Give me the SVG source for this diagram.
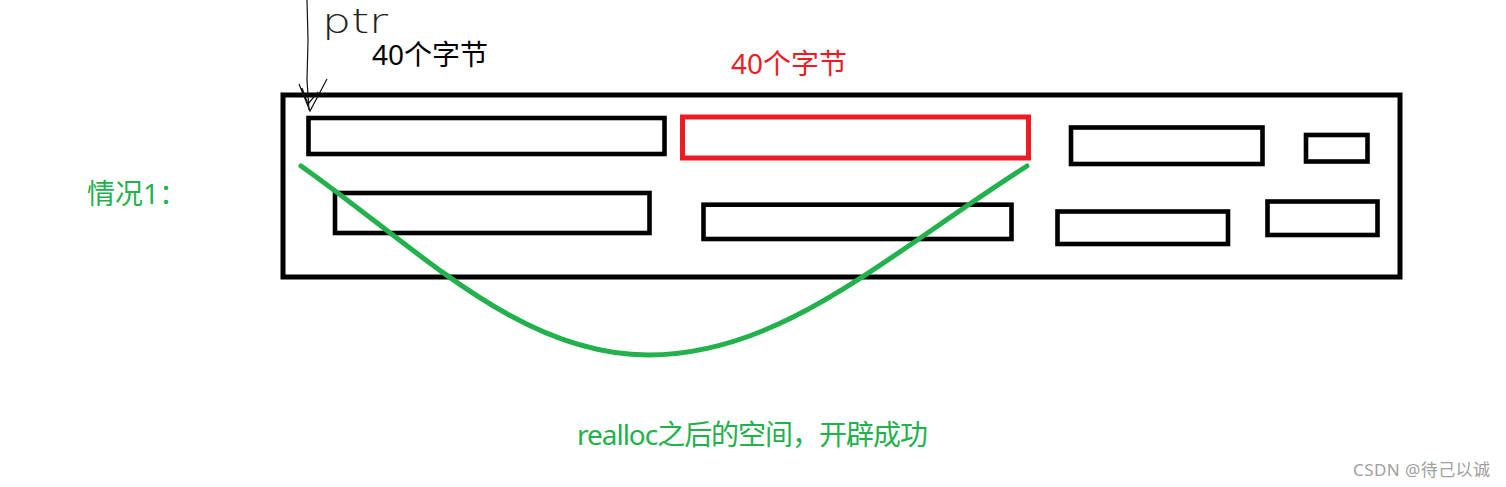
<svg xmlns="http://www.w3.org/2000/svg" width="1506" height="487" viewBox="0 0 1506 487">
<style>
.blk{fill:none;stroke:#000;stroke-width:4.6}
.red{fill:none;stroke:#ED1C24;stroke-width:5}
.cjk{font-family:"Noto Sans","Noto Sans CJK SC",sans-serif}
.g{fill:#22B14C}
</style>
<rect width="1506" height="487" fill="#fff"/>
<g id="memory">
<rect x="283" y="95" width="1117" height="182" fill="none" stroke="#000" stroke-width="5"/>
</g>
<g id="block1"><rect class="blk" x="308.5" y="118" width="356" height="36"/></g>
<g id="block-red"><rect class="red" x="682.5" y="117" width="346" height="41"/></g>
<g id="block3"><rect class="blk" x="1071" y="127.5" width="191.5" height="36.5"/></g>
<g id="block4"><rect class="blk" x="1306" y="135" width="61.5" height="26.5"/></g>
<g id="block5"><rect class="blk" x="335" y="193" width="314.5" height="40"/></g>
<g id="block6"><rect class="blk" x="703.5" y="204.7" width="308" height="34.3"/></g>
<g id="block7"><rect class="blk" x="1057.5" y="211.5" width="170.5" height="32.5"/></g>
<g id="block8"><rect class="blk" x="1267.5" y="201.5" width="110" height="33.5"/></g>
<g id="connectors">
<path d="M307,0 L308,40 L307,80 L309,110" fill="none" stroke="#111" stroke-width="1.2"/>
<path d="M299,84 L310,111 L327,79 M302,88 L308,104 L318,92" fill="none" stroke="#111" stroke-width="1.2"/>
<path d="M301,166 C420,250 520,355 648,355 C780,355 880,260 1027,166" fill="none" stroke="#22B14C" stroke-width="5" stroke-linecap="round"/>
</g>
<g id="labels">
<text x="322" y="33" font-family="DejaVu Sans" font-weight="200" font-size="34" fill="#222" textLength="66" lengthAdjust="spacingAndGlyphs">ptr</text>
<text class="cjk" x="372" y="65" font-size="28" fill="#000">40个字节</text>
<text class="cjk" x="731" y="74" font-size="28" fill="#ED1C24">40个字节</text>
<text class="cjk g" x="87" y="204" font-size="28">情况1：</text>
<text class="cjk g" x="577" y="445" font-size="28" textLength="351" lengthAdjust="spacing">realloc之后的空间，开辟成功</text>
<text class="cjk" x="1353" y="476" font-size="17" fill="#a0a0a0" textLength="137" lengthAdjust="spacing">CSDN @待己以诚</text>
</g>
</svg>
